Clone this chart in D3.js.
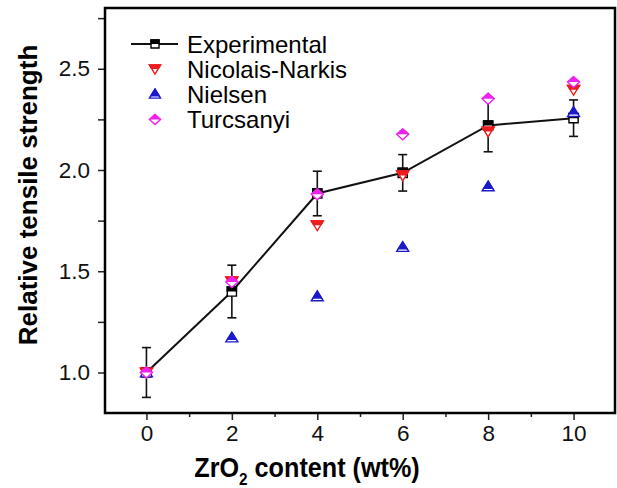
<!DOCTYPE html>
<html><head><meta charset="utf-8">
<script src="https://cdn.jsdelivr.net/npm/d3@7"></script>
<style>
html,body{margin:0;padding:0;background:#fff;}
svg{display:block;font-family:"Liberation Sans",Arial,sans-serif;}
</style></head>
<body>
<svg id="chart" width="617" height="488"></svg>
<script>
const xValues = [0, 2, 4, 6, 8, 10];
const experimental = [1.0, 1.40, 1.884, 1.986, 2.22, 2.256];
const expError = [0.123, 0.13, 0.11, 0.09, 0.13, 0.09];
const nicolaisNarkis = [1.0, 1.45, 1.727, 1.973, 2.19, 2.396];
const nielsen = [1.0, 1.173, 1.376, 1.62, 1.919, 2.286];
const turcsanyi = [1.0, 1.447, 1.88, 2.176, 2.352, 2.434];
const xMajorTicks = [0, 2, 4, 6, 8, 10];
const xMinorTicks = [1, 3, 5, 7, 9];
const yMajorTicks = [1.0, 1.5, 2.0, 2.5];
const yMinorTicks = [1.25, 1.75, 2.25, 2.75];
const seriesNames = ["Experimental", "Nicolais-Narkis", "Nielsen", "Turcsanyi"];

const svg = d3.select("#chart");
const L = 105, R = 615, T = 8, B = 413;
const x = d3.scaleLinear().domain([-0.97, 10.97]).range([L, R]);
const y = d3.scaleLinear().domain([0.8, 2.8]).range([B, T]);

const defs = svg.append("defs");
defs.append("clipPath").attr("id", "tophalf").attr("clipPathUnits", "userSpaceOnUse")
  .append("rect").attr("x", -20).attr("y", -20).attr("width", 40).attr("height", 20);
defs.append("clipPath").attr("id", "topup").attr("clipPathUnits", "userSpaceOnUse")
  .append("rect").attr("x", -20).attr("y", -20).attr("width", 40).attr("height", 22.5);

const shapes = {
  square: s => `M${-s},${-s}H${s}V${s}H${-s}Z`,
  down: s => `M${-s*1.15},${-s*0.85}H${s*1.15}L0,${s*1.05}Z`,
  up: s => `M0,${-s*1.0}L${s*1.15},${s*0.85}H${-s*1.15}Z`,
  diamond: s => `M0,${-s*1.05}L${s*1.15},0L0,${s*1.05}L${-s*1.15},0Z`
};

function marker(g, shape, color, s, clip) {
  const d = shapes[shape](s);
  g.append("path").attr("d", d).attr("fill", "#fff").attr("stroke", color).attr("stroke-width", 1.4);
  g.append("path").attr("d", d).attr("fill", color).attr("stroke", color).attr("stroke-width", 1.4)
    .attr("clip-path", `url(#${clip || "tophalf"})`);
}

const axisG = svg.append("g");
const xAxis = d3.axisBottom(x).tickValues(xMajorTicks).tickSize(7).tickPadding(5).tickFormat(d3.format("d"));
const xMinor = d3.axisBottom(x).tickValues(xMinorTicks).tickSize(4).tickFormat("");
const yAxis = d3.axisLeft(y).tickValues(yMajorTicks).tickSize(7).tickPadding(8).tickFormat(d3.format(".1f"));
const yMinor = d3.axisLeft(y).tickValues(yMinorTicks).tickSize(7).tickFormat("");

function styleAxis(g) {
  g.select(".domain").remove();
  g.selectAll(".tick line").attr("stroke", "#222").attr("stroke-width", 1.5);
  g.selectAll(".tick text").attr("font-size", 22.5).attr("fill", "#111")
    .attr("font-family", "'Liberation Sans',Arial,sans-serif");
}
axisG.append("g").attr("transform", `translate(0,${B})`).call(xAxis).call(styleAxis);
axisG.append("g").attr("transform", `translate(0,${B})`).call(xMinor).call(styleAxis);
axisG.append("g").attr("transform", `translate(${L},0)`).call(yAxis).call(styleAxis);
axisG.append("g").attr("transform", `translate(${L},0)`).call(yMinor).call(styleAxis);

svg.append("rect").attr("x", L).attr("y", T).attr("width", R - L).attr("height", B - T)
  .attr("fill", "none").attr("stroke", "#000").attr("stroke-width", 2.5);

svg.append("text").attr("transform", "translate(307,477) scale(0.9,1)").attr("text-anchor", "middle")
  .attr("font-size", 28).attr("font-weight", "bold").attr("fill", "#000")
  .html('ZrO<tspan font-size="17" dy="8">2</tspan><tspan dy="-8"> content (wt%)</tspan>');
svg.append("text").attr("transform", "translate(37,195) rotate(-90)").attr("text-anchor", "middle")
  .attr("font-size", 26).attr("font-weight", "bold").attr("fill", "#000")
  .text("Relative tensile strength");

const pts = xValues.map((v, i) => ({x: v, e: experimental[i], err: expError[i],
  nn: nicolaisNarkis[i], ni: nielsen[i], tu: turcsanyi[i]}));

const plot = svg.append("g");
const eb = plot.selectAll(".eb").data(pts).enter().append("g").attr("stroke", "#111").attr("stroke-width", 1.6);
eb.append("line").attr("x1", d => x(d.x)).attr("x2", d => x(d.x))
  .attr("y1", d => y(d.e + d.err)).attr("y2", d => y(d.e - d.err));
eb.append("line").attr("x1", d => x(d.x) - 4.5).attr("x2", d => x(d.x) + 4.5)
  .attr("y1", d => y(d.e + d.err)).attr("y2", d => y(d.e + d.err));
eb.append("line").attr("x1", d => x(d.x) - 4.5).attr("x2", d => x(d.x) + 4.5)
  .attr("y1", d => y(d.e - d.err)).attr("y2", d => y(d.e - d.err));

plot.append("path").datum(pts)
  .attr("d", d3.line().x(d => x(d.x)).y(d => y(d.e)))
  .attr("fill", "none").attr("stroke", "#111").attr("stroke-width", 2);

pts.forEach(d => marker(plot.append("g").attr("transform", `translate(${x(d.x)},${y(d.e)})`), "square", "#000", 4.6));
pts.forEach(d => marker(plot.append("g").attr("transform", `translate(${x(d.x)},${y(d.nn)})`), "down", "#ee1c1c", 5.2));
pts.forEach(d => marker(plot.append("g").attr("transform", `translate(${x(d.x)},${y(d.ni)})`), "up", "#1a1acc", 5.2, "topup"));
pts.forEach(d => marker(plot.append("g").attr("transform", `translate(${x(d.x)},${y(d.tu)})`), "diamond", "#ee22ee", 5.2));

const leg = svg.append("g");
const legY = [44, 69, 94, 119.5];
leg.append("line").attr("x1", 131).attr("x2", 178).attr("y1", legY[0]).attr("y2", legY[0])
  .attr("stroke", "#111").attr("stroke-width", 2);
marker(leg.append("g").attr("transform", `translate(155,${legY[0]})`), "square", "#000", 4);
marker(leg.append("g").attr("transform", `translate(155,${legY[1]})`), "down", "#ee1c1c", 4.8);
marker(leg.append("g").attr("transform", `translate(155,${legY[2]})`), "up", "#1a1acc", 4.8, "topup");
marker(leg.append("g").attr("transform", `translate(155,${legY[3]})`), "diamond", "#ee22ee", 4.8);
seriesNames.forEach((n, i) => {
  leg.append("text").attr("x", 187).attr("y", legY[i] + 8.5).attr("font-size", 24).attr("fill", "#000").text(n);
});
</script>
</body></html>
